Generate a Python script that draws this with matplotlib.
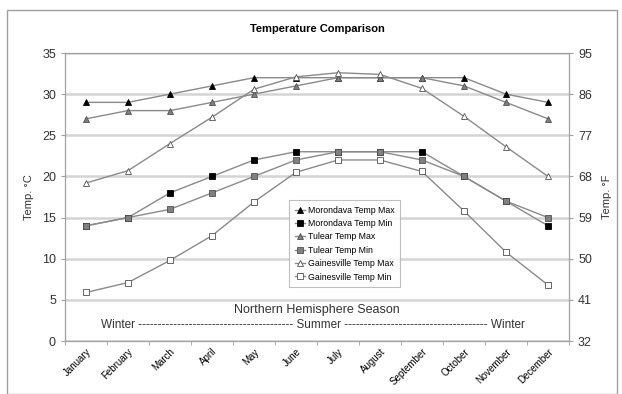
import matplotlib.pyplot as plt
from matplotlib.patches import Rectangle

months = ["January", "February", "March", "April", "May", "June", "July",
          "August", "September", "October", "November", "December"]

morondava_max = [29, 29, 30, 31, 32, 32, 32, 32, 32, 32, 30, 29]
morondava_min = [14, 15, 18, 20, 22, 23, 23, 23, 23, 20, 17, 14]
tulear_max = [27, 28, 28, 29, 30, 31, 32, 32, 32, 31, 29, 27]
tulear_min = [14, 15, 16, 18, 20, 22, 23, 23, 22, 20, 17, 15]
gainesville_max = [19.2, 20.7, 24.0, 27.2, 30.6, 32.1, 32.6, 32.4, 30.7, 27.3, 23.6, 20.0]
gainesville_min = [5.9, 7.1, 9.8, 12.8, 16.9, 20.5, 22.0, 22.0, 20.6, 15.8, 10.8, 6.8]

c_ticks = [0, 5, 10, 15, 20, 25, 30, 35]
f_ticks = [32, 41, 50, 59, 68, 77, 86, 95]

series = [
    ("Morondava Temp Max", morondava_max, "^", "black"),
    ("Morondava Temp Min", morondava_min, "s", "black"),
    ("Tulear Temp Max", tulear_max, "^", "#808080"),
    ("Tulear Temp Min", tulear_min, "s", "#808080"),
    ("Gainesville Temp Max", gainesville_max, "^", "white"),
    ("Gainesville Temp Min", gainesville_min, "s", "white"),
]

plt.rcParams["font.family"] = ["Liberation Sans", "DejaVu Sans"]

fig = plt.figure(figsize=(6.22, 3.94), dpi=100)
# outer chart border
fig.patches.append(Rectangle((7 / 622, 0), 610 / 622, 1 - 10 / 394, transform=fig.transFigure,
                             fill=False, edgecolor="#a0a0a0", linewidth=1.0))

ax = fig.add_axes([65 / 622, 1 - 341 / 394, (569 - 65) / 622, (341 - 53) / 394])
x = list(range(len(months)))

for label, vals, mk, fc in series:
    ax.plot(x, vals, color="#8a8a8a", linewidth=1.0, marker=mk, markersize=3.8,
            markerfacecolor=fc, markeredgecolor="#505050" if fc != "black" else "black",
            markeredgewidth=0.6, label=label)

ax.set_xlim(-0.5, len(months) - 0.5)
ax.set_ylim(0, 35)
ax.set_yticks(c_ticks)
ax.set_xticks(x)
ax.set_xticklabels(months, rotation=45, ha="right", rotation_mode="anchor", fontsize=7)
ax.set_xticks([i - 0.5 for i in range(len(months) + 1)], minor=True)
ax.tick_params(axis="x", which="major", length=0, pad=4)
ax.tick_params(axis="x", which="minor", length=3, color="#a0a0a0")
ax.tick_params(axis="y", length=3, color="#a0a0a0", labelsize=9, labelcolor="#333333")
ax.grid(axis="y", color="#d4d4d4", linewidth=1.8)
ax.set_axisbelow(True)
for sp in ax.spines.values():
    sp.set_color("#a0a0a0")
ax.set_ylabel("Temp. °C", fontsize=8, labelpad=6, color="#333333")

ax2 = ax.twinx()
ax2.set_ylim(32, 95)
ax2.set_yticks(f_ticks)
ax2.tick_params(axis="y", length=3, color="#a0a0a0", labelsize=9, labelcolor="#333333")
for sp in ax2.spines.values():
    sp.set_color("#a0a0a0")
ax2.set_ylabel("Temp. °F", fontsize=8, labelpad=7, color="#333333")

ax.set_title("Temperature Comparison", fontsize=8, fontweight="bold", pad=15)

leg = ax.legend(loc="upper left", bbox_to_anchor=(220 / 504, 1 - (196 - 53) / 288),
                fontsize=6.3, frameon=True, fancybox=False, edgecolor="#b0b0b0",
                handlelength=1.2, handletextpad=0.3, labelspacing=0.5, borderpad=0.6)
leg.get_frame().set_linewidth(0.8)

ax.text(5.5, 3.8, "Northern Hemisphere Season",
        ha="center", va="center", fontsize=9, color="#333333")
ax.text(5.4, 1.9, "Winter " + "-" * 40 + " Summer " + "-" * 37 + " Winter",
        ha="center", va="center", fontsize=8.5, color="#333333")

fig.savefig("out.png", dpi=100)
